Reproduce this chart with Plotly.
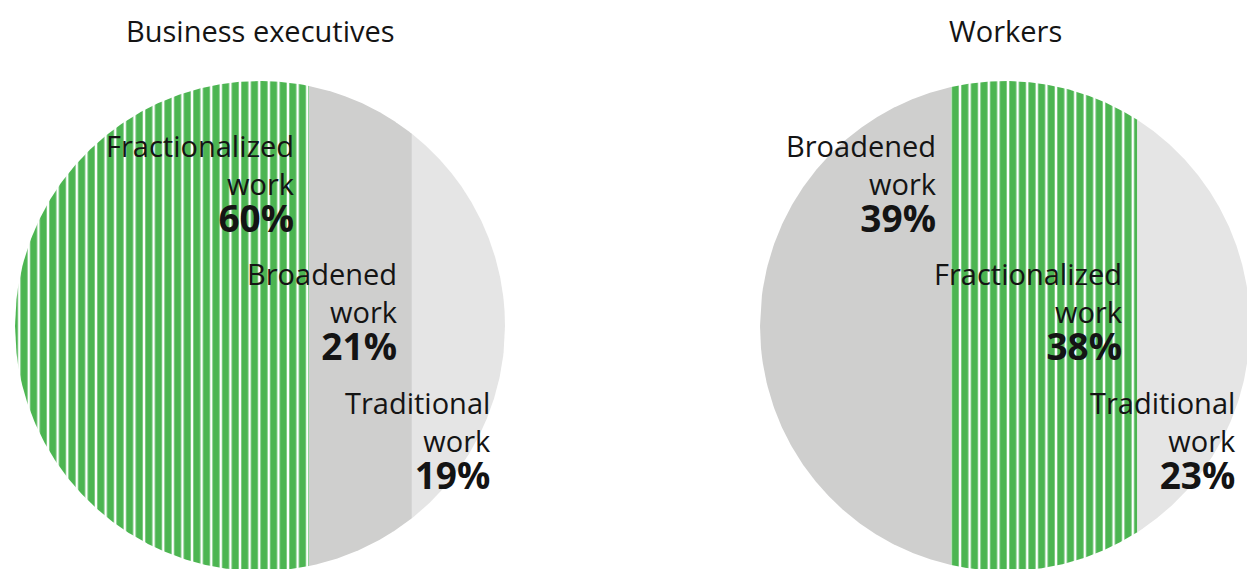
import numpy as np
import plotly.graph_objects as go

# ---- data ----
titles = ["Business executives", "Workers"]
exec_categories = ["Fractionalized work", "Broadened work", "Traditional work"]
exec_values = [60, 21, 19]
worker_categories = ["Broadened work", "Fractionalized work", "Traditional work"]
worker_values = [39, 38, 23]

# ---- styling / layout constants ----
W, H = 1247, 569
R = 245
centers = [(260, 326), (1005, 326)]
GREEN = "#4CB551"
styles = {
    "Fractionalized work": dict(fillcolor="white",
                                fillpattern=dict(shape="|", fgcolor=GREEN, bgcolor="white",
                                                 size=9.6, solidity=0.74, fillmode="replace")),
    "Broadened work": dict(fillcolor="#CFCFCE"),
    "Traditional work": dict(fillcolor="#E5E5E5"),
}
FONT = "Open Sans, Noto Sans, sans-serif"
TEXT_COLOR = "#141414"
LABEL_SIZE = 29
PCT_SIZE = 37
TITLE_SIZE = 29
label_top = 184
label_step = 128.5
label_pad = 12

fig = go.Figure()
annotations = []


def segment(cx, cy, u0, u1, n=200):
    u = np.linspace(u0, u1, n)
    half = R * np.sqrt(np.clip(1 - u ** 2, 0, None))
    xs = np.concatenate([cx + R * u, cx + R * u[::-1], [cx + R * u[0]]])
    ys = np.concatenate([cy - half, (cy + half)[::-1], [cy - half[0]]])
    return xs, ys


for (cx, cy), title, cats, vals in zip(centers, titles,
                                      [exec_categories, worker_categories],
                                      [exec_values, worker_values]):
    total = float(sum(vals))
    cum = 0.0
    for k, (cat, v) in enumerate(zip(cats, vals)):
        u0 = -1 + 2 * cum / total
        cum += v
        u1 = -1 + 2 * cum / total
        xs, ys = segment(cx, cy, u0, u1)
        fig.add_trace(go.Scatter(x=xs, y=ys, mode="lines", fill="toself",
                                 line=dict(width=0), hoverinfo="skip",
                                 showlegend=False, **styles[cat]))
        name, word = cat.split(" ")
        annotations.append(dict(
            x=cx + R * u1 - label_pad, y=label_top + k * label_step,
            xref="x", yref="y", xanchor="right", yanchor="middle", align="right",
            showarrow=False,
            text=f"{name}<br>{word}<br><span style='font-size:{PCT_SIZE}px'><b>{v}%</b></span>",
            font=dict(family=FONT, size=LABEL_SIZE, color=TEXT_COLOR)))
    annotations.append(dict(x=cx, y=30, xref="x", yref="y", xanchor="center",
                            yanchor="middle", showarrow=False, text=title,
                            font=dict(family=FONT, size=TITLE_SIZE, color=TEXT_COLOR)))

fig.update_layout(
    width=W, height=H,
    margin=dict(l=0, r=0, t=0, b=0),
    paper_bgcolor="white", plot_bgcolor="white",
    xaxis=dict(range=[0, W], visible=False, fixedrange=True),
    yaxis=dict(range=[H, 0], visible=False, fixedrange=True),
    annotations=annotations,
)

fig.write_html("out.html")
